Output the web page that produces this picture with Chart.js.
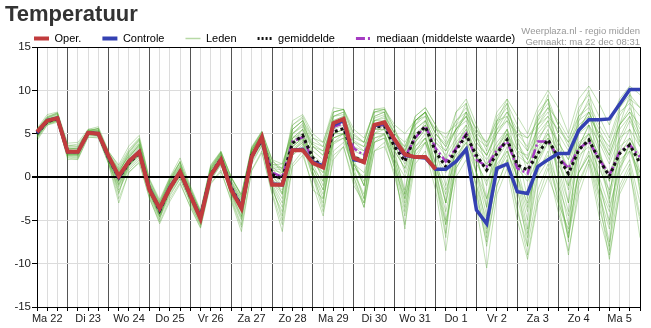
<!DOCTYPE html>
<html>
<head>
  <title>Temperatuur</title>
  <script src="https://cdn.jsdelivr.net/npm/chart.js"></script>
  <style>
    body { margin: 0; background: #fff; }
    .wrap { position: relative; width: 651px; height: 328px; font-family: 'Liberation Sans', Arial, sans-serif; }
    .titel { position: absolute; left: 5px; top: 3px; font-size: 22px; font-weight: bold; line-height: 22px; color: #333; }
    .bron { position: absolute; right: 11px; top: 25px; font-size: 9.5px; line-height: 11px; color: #999; text-align: right; }
    canvas { position: absolute; left: 0; top: 0; }
  </style>
</head>
<body>
  <div class="wrap">
    <canvas id="chart" width="651" height="328"></canvas>
    <div class="titel">Temperatuur</div>
    <div class="bron">Weerplaza.nl - regio midden<br>Gemaakt: ma 22 dec 08:31</div>
  </div>

  <script>
    // tick labels, one per day (placed at 12:00); data points are every 6 hours from Ma 22 06:00
    const dagen = ['Ma 22', 'Di 23', 'Wo 24', 'Do 25', 'Vr 26', 'Za 27', 'Zo 28', 'Ma 29', 'Di 30', 'Wo 31', 'Do 1', 'Vr 2', 'Za 3', 'Zo 4', 'Ma 5'];

    const oper = [5.2,6.5,6.8, 2.9,2.9,5.1,5.0, 2.4,0.1,1.8,2.9, -1.5,-3.6,-1.3,0.6, -2.1,-4.8,0.2,2.0, -1.5,-3.6,2.3,4.6, -0.9,-0.9,3.1,3.1, 1.6,1.1,6.2,6.7, 2.2,1.7,6.0,6.3, 4.3,2.6,2.3,2.3, 0.9];

    const controle = [5.1,6.5,6.8, 2.9,2.9,5.1,5.0, 2.3,0.0,1.8,2.9, -1.4,-3.7,-1.2,0.6, -2.1,-4.7,0.2,2.0, -1.4,-3.5,2.3,4.5, -0.8,-0.9,3.1,3.2, 1.7,1.3,6.0,6.5, 2.0,1.8,5.9,6.2, 4.2,2.5,2.3,2.2, 0.9,0.9,1.8,3.2, -3.8,-5.4,1.0,1.5, -1.7,-1.9,1.2,2.0, 2.7,2.7,5.4,6.6, 6.6,6.7,8.4,10.1, 10.1];

    const gemiddelde = [5.0,6.4,6.7, 2.9,2.9,5.1,5.0, 2.2,-0.1,1.6,2.8, -1.4,-3.9,-1.3,0.5, -2.2,-4.6,0.3,2.1, -1.2,-3.4,2.5,4.2, 0.3,-0.2,3.9,4.8, 2.2,1.1,5.2,5.6, 2.3,1.8,5.8,5.8, 3.5,1.8,4.7,5.8, 2.9,1.2,3.1,4.8, 2.5,0.8,2.7,4.3, 1.4,0.8,2.7,4.3, 2.3,0.4,3.1,4.3, 2.0,0.1,2.7,3.7, 1.6];

    const mediaan = [5.1,6.5,6.8, 2.9,2.9,5.1,5.0, 2.3,0.0,1.7,2.9, -1.4,-3.8,-1.2,0.6, -2.1,-4.7,0.3,2.1, -1.2,-3.4,2.5,4.3, 0.5,0.0,4.1,4.6, 1.8,1.2,5.8,6.2, 3.3,2.5,5.9,6.0, 4.0,2.3,4.5,5.9, 3.3,1.8,3.3,5.0, 2.0,1.2,3.1,4.1, 1.0,0.4,4.1,4.1, 2.3,1.0,3.3,4.1, 2.1,0.2,2.9,3.7, 2.3];

    // ensemble members (Leden)
    const leden = [
      [5.4,6.8,7.2, 3.5,3.6,5.3,5.4, 2.8,0.8,2.4,3.6, -0.8,-3.2,-0.6,1.2, -1.6,-4.2,0.8,2.6, -0.5,-2.5,3.0,4.8, 1.5,1.0,5.0,6.0, 3.8,3.0,6.5,7.0, 4.2,3.5,6.8,7.2, 5.0,3.5,6.5,7.5, 5.0,3.8,5.5,7.0, 5.0,4.0,6.0,7.5, 5.5,4.5,6.5,8.0, 6.5,4.5,7.0,8.5, 6.0,4.0,7.5,8.5, 7.0],
      [4.6,6.1,6.4, 2.3,2.2,4.8,4.7, 1.6,-1.2,1.0,2.2, -2.0,-4.8,-2.2,-0.2, -3.0,-5.6,-0.3,1.5, -2.2,-5.0,1.5,3.6, -1.5,-4.0,2.5,3.8, 0.5,-2.5,3.8,4.5, 0.5,-2.0,4.5,4.8, 1.5,-3.5,2.5,4.0, -0.5,-5.5,1.0,3.0, -1.0,-6.5,0.5,2.5, -2.5,-7.0,0.0,2.0, -2.0,-6.5,0.5,2.5, -2.0,-6.0,0.0,2.0, -3.0],
      [5.1,6.5,6.9, 3.1,3.0,5.2,5.1, 2.4,0.3,1.9,3.2, -1.0,-3.5,-1.0,0.9, -1.8,-4.3,0.5,2.4, -0.8,-3.0,2.8,4.6, 0.8,0.5,4.5,5.5, 3.0,2.0,6.0,6.5, 3.0,2.5,6.5,6.8, 4.5,3.0,5.5,6.5, 4.0,2.5,4.5,6.0, 3.5,2.0,4.0,5.5, 3.0,2.5,4.5,6.0, 4.0,2.0,5.0,6.0, 4.0,1.5,4.5,5.5, 3.5],
      [4.8,6.3,6.6, 2.7,2.6,5.0,4.9, 2.0,-0.6,1.4,2.6, -1.6,-4.2,-1.6,0.3, -2.5,-5.0,0.0,1.8, -1.6,-4.0,2.2,4.0, -0.5,-2.5,3.5,4.5, 1.5,-1.0,5.0,5.5, 1.5,-0.5,5.5,6.0, 2.5,-1.5,4.0,5.5, 1.5,-3.0,2.0,4.0, -1.5,-8.0,-1.0,2.0, -3.5,-9.0,-2.5,1.0, -4.0,-8.5,-2.0,1.5, -4.5,-9.0,-2.0,0.5, -5.0],
      [5.6,7.2,7.5, 3.9,4.0,5.5,5.8, 3.0,1.2,3.2,4.5, -0.4,-2.8,-0.2,1.8, -1.2,-4.0,1.2,2.9, 0.0,-2.2,3.4,5.2, 1.8,1.0,6.0,7.0, 4.5,3.5,7.5,7.8, 4.8,4.0,7.5,7.8, 5.5,3.0,7.0,8.0, 6.0,4.0,7.5,9.0, 6.0,3.5,7.5,9.0, 7.0,5.0,8.0,10.0, 8.0,5.0,9.0,10.5, 8.5,6.0,9.0,10.5, 9.5],
      [4.4,6.0,6.5, 2.0,2.1,4.6,4.5, 1.5,-3.0,0.6,1.6, -2.4,-5.4,-2.8,-0.8, -3.4,-5.8,-0.7,0.8, -2.8,-6.3,0.7,2.8, -2.0,-6.3,1.2,2.5, -1.0,-4.5,2.5,3.5, -0.5,-3.5,3.0,3.5, 0.5,-5.5,1.5,3.0, -1.5,-8.5,0.0,2.0, -2.0,-7.0,0.5,3.0, 0.0,-4.0,2.0,4.5, 1.0,-3.0,3.0,5.0, 1.5,-2.5,2.5,4.5, 2.0],
      [5.0,6.3,6.6, 2.8,2.8,5.0,5.0, 2.2,0.4,2.0,3.4, -1.2,-3.6,-1.0,0.8, -2.0,-4.5,0.4,2.2, -1.0,-3.2,2.6,4.4, 0.5,-1.0,3.5,4.5, 2.0,0.0,4.5,5.0, 1.5,-1.0,4.0,4.5, 1.0,-2.5,3.0,4.5, 0.5,-4.0,1.5,3.5, -3.5,-10.5,-2.0,1.0, -5.0,-9.5,-3.0,0.0, -3.0,-6.0,0.5,3.0, -1.0,-4.0,1.5,3.5, 0.0],
      [5.3,6.7,7.0, 3.3,3.4,5.4,5.3, 2.6,0.6,2.6,4.0, -0.6,-3.0,-0.4,1.4, -1.4,-4.0,1.0,2.7, -0.2,-2.0,3.2,5.0, 1.2,1.0,5.5,6.5, 4.0,3.5,7.0,7.5, 4.5,4.0,7.8,7.8, 5.0,3.0,6.5,7.0, 4.5,3.0,5.5,7.5, 5.5,4.0,6.5,7.0, 4.0,2.0,5.0,6.5, 3.5,1.0,5.5,7.5, 5.0,2.5,6.0,8.0, 5.5],
      [4.9,6.4,6.7, 2.6,2.5,5.0,4.8, 1.8,-1.5,0.8,2.0, -1.8,-4.5,-1.8,0.0, -2.6,-5.2,-0.2,1.6, -1.8,-4.5,2.0,3.8, -0.8,-3.0,3.0,4.0, 0.0,-4.0,2.0,3.5, -1.0,-3.0,3.0,4.0, 0.0,-4.5,2.0,4.0, 1.0,-2.0,3.0,5.0, 2.0,-1.0,3.5,5.5, 1.0,-3.5,2.5,5.0, 0.5,-4.0,2.0,4.5, -1.0,-5.0,1.0,4.0, -1.5],
      [4.9,6.3,6.6, 2.8,2.7,5.0,4.9, 2.0,-0.4,1.4,2.6, -1.5,-4.0,-1.4,0.4, -2.3,-4.8,0.2,2.0, -1.3,-3.6,2.4,4.1, 0.0,-1.0,3.5,4.5, 1.5,0.5,5.0,5.5, 2.0,1.5,5.5,5.5, 3.0,1.0,4.0,5.5, 2.5,0.5,2.5,4.0, 1.5,-0.5,2.0,4.0, 1.0,-0.5,2.0,4.0, 1.5,-1.0,2.5,3.5, 1.0,-1.5,2.0,3.0, 0.5],
      [4.5,6.2,6.8, 2.4,2.3,5.3,5.6, 1.7,-2.0,2.2,3.8, -2.2,-5.0,-0.6,1.8, -3.2,-5.5,1.0,2.8, -2.4,-5.5,3.0,5.0, -1.0,-5.0,5.5,6.5, 0.5,-3.5,7.0,7.5, 0.0,-3.0,7.5,7.5, 1.0,-6.0,6.0,7.5, -0.5,-7.0,5.0,7.5, 0.0,-6.0,6.0,8.5, -1.0,-8.0,6.5,9.5, -0.5,-7.5,6.5,9.0, -1.0,-8.5,6.0,9.5, -2.0],
      [5.2,6.6,6.9, 3.0,2.9,5.1,5.0, 2.3,0.0,1.7,3.0, -1.3,-3.8,-1.2,0.6, -2.1,-4.6,0.3,2.1, -1.1,-3.3,2.5,4.3, 0.5,0.0,4.0,5.0, 2.5,1.5,5.5,6.0, 2.5,2.0,6.0,6.0, 4.0,2.5,5.0,6.0, 3.5,2.0,4.0,5.5, 3.0,1.5,3.5,5.0, 2.5,1.5,3.5,5.0, 3.0,1.0,4.0,5.0, 2.5,0.5,3.5,4.5, 2.5],
      [4.2,6.0,6.3, 2.2,2.0,4.6,4.6, 1.6,-2.5,0.5,1.8, -2.5,-5.2,-2.5,-0.6, -3.5,-5.9,-0.8,0.6, -2.6,-5.8,0.8,3.0, -1.8,-5.5,1.5,3.0, -1.5,-2.5,3.0,4.0, 1.0,0.0,5.0,5.5, 3.0,1.0,5.5,6.5, 4.0,3.0,5.5,7.0, 4.0,2.5,5.0,6.5, 3.5,2.0,6.0,7.5, 5.0,3.0,6.5,7.5, 4.5,2.0,5.5,7.0, 4.5],
      [5.5,6.9,7.3, 3.6,3.8,5.3,5.6, 2.9,1.4,3.6,4.8, -0.2,-2.6,0.0,2.2, -1.0,-3.8,1.4,3.0, 0.0,-2.0,3.5,5.3, 2.0,0.5,6.5,7.2, 5.0,4.0,8.0,7.8, 5.0,4.0,7.8,8.0, 5.5,2.5,7.0,8.0, 6.0,2.0,7.5,8.5, 5.0,1.0,6.5,8.0, 4.5,0.5,6.0,8.0, 5.0,-1.0,5.0,7.0, 3.5,-2.0,4.0,6.5, 4.0],
      [4.7,6.2,6.5, 2.5,2.4,4.9,4.8, 1.9,-1.0,1.2,2.4, -1.9,-4.6,-2.0,-0.2, -2.8,-5.4,-0.4,1.4, -2.0,-4.8,1.8,3.6, -1.2,-4.5,2.5,3.5, 0.0,-3.0,4.0,5.0, 0.5,-2.5,4.0,4.5, 1.5,-3.0,3.0,4.5, 1.0,-5.0,1.5,3.5, -1.0,-5.0,1.0,3.5, -1.5,-6.5,0.5,3.0, -3.0,-9.0,-1.0,2.0, -2.5,-9.5,-1.5,1.0, -7.0],
      [5.3,6.9,7.4, 3.4,3.2,5.2,5.4, 2.5,0.9,2.8,4.2, -0.8,-3.3,-0.8,1.0, -1.7,-4.3,0.8,2.5, -0.6,-2.8,3.0,4.8, 1.0,0.8,4.5,5.5, 3.5,3.0,6.0,6.5, 4.0,3.0,6.5,7.0, 5.0,4.0,6.0,7.0, 5.5,5.0,6.0,7.0, 4.5,3.5,5.5,6.5, 5.0,4.5,6.0,7.0, 5.5,4.0,6.0,7.0, 5.0,3.5,6.0,7.5, 6.0],
      [4.6,6.3,6.8, 2.6,2.6,5.0,5.0, 2.1,-0.8,1.5,2.9, -1.6,-4.4,-1.4,0.6, -2.4,-5.1,0.2,2.0, -1.4,-4.2,2.4,4.2, -0.5,-2.0,4.0,5.5, 1.0,-1.5,5.5,6.5, 1.0,-2.5,5.0,6.0, 2.0,-2.0,4.5,6.0, 1.5,-3.0,3.5,6.0, 0.5,-3.5,3.0,5.5, 0.0,-5.0,3.0,5.5, 0.0,-5.5,3.5,6.0, -0.5,-5.5,3.0,5.5, 0.5],
      [5.0,6.5,6.9, 3.2,3.3,5.1,5.2, 2.3,0.2,2.2,3.5, -1.1,-3.7,-0.9,0.9, -1.9,-4.4,0.6,2.3, -0.9,-3.0,2.9,4.5, 1.0,-0.5,4.5,5.0, 2.0,0.5,5.0,5.0, 3.5,2.5,6.0,6.5, 4.0,0.5,4.0,6.5, 3.0,-1.0,3.5,5.5, 2.5,-2.5,2.0,5.0, 3.0,1.5,4.0,6.5, 2.5,-1.5,3.5,6.0, 3.0,-0.5,4.5,7.0, 3.5],
      [5.2,6.7,7.1, 3.0,3.1,5.3,5.2, 2.5,0.5,2.3,3.7, -0.9,-3.4,-0.7,1.1, -1.8,-4.4,0.7,2.5, -0.7,-2.7,3.1,4.9, 1.2,0.2,5.0,6.2, 3.5,2.5,7.0,7.2, 3.5,3.0,7.0,7.5, 4.5,2.0,6.5,7.5, 5.0,3.5,6.5,8.0, 5.5,3.0,7.0,8.5, 6.0,3.0,7.5,9.0, 6.0,4.0,8.0,9.5, 7.0,4.5,8.0,9.5, 8.0],
      [4.8,6.4,6.7, 2.7,2.8,5.0,5.1, 2.1,-1.8,1.3,2.7, -1.7,-4.6,-1.7,0.2, -2.7,-5.3,-0.1,1.7, -1.9,-4.6,2.1,4.0, -1.0,-3.5,3.0,4.2, 0.5,-2.0,4.5,5.0, 0.0,-3.5,4.0,5.0, 1.0,-4.0,3.5,5.0, 0.0,-6.5,2.0,4.5, 0.5,-4.5,2.5,5.0, -0.5,-6.0,1.5,4.0, -1.5,-7.0,1.0,4.5, -2.0,-7.5,0.5,4.0, -1.0],
      [5.4,6.6,7.0, 3.2,3.1,5.2,5.3, 2.6,0.7,2.5,3.8, -0.7,-3.1,-0.5,1.3, -1.5,-4.1,0.9,2.6, -0.4,-2.4,3.1,4.9, 1.4,1.5,5.0,5.8, 3.5,2.5,6.5,7.0, 4.0,3.5,6.5,6.5, 4.5,3.5,6.5,7.5, 5.5,4.5,6.5,7.5, 4.5,2.5,5.5,7.5, 5.0,3.5,7.0,8.5, 6.0,3.5,7.0,8.0, 5.5,3.0,7.0,9.0, 8.0],
      [4.9,6.2,6.5, 2.6,2.6,4.9,4.8, 1.9,-0.9,1.3,2.5, -1.7,-4.3,-1.7,0.2, -2.5,-5.0,0.0,1.8, -1.5,-3.9,2.2,3.9, -0.3,-1.5,3.0,4.0, 1.0,-0.5,4.0,4.5, 1.5,0.5,4.5,5.0, 2.0,0.0,3.5,4.5, 1.5,-1.5,2.0,3.5, 0.5,-2.5,1.5,3.0, 0.0,-3.0,1.0,2.5, -1.0,-4.5,0.5,2.5, 0.0,-3.5,1.0,3.0, -0.5],
      [5.3,6.8,7.3, 3.3,3.3,5.5,5.5, 2.7,0.4,2.9,4.3, -1.0,-3.3,-0.3,1.6, -1.9,-4.5,1.1,2.8, -1.0,-3.8,3.3,5.1, 0.5,-2.0,6.0,6.8, 2.5,-0.5,7.5,7.8, 2.0,-1.0,7.0,7.5, 3.0,-2.0,6.5,7.5, 2.5,-3.0,6.0,8.5, 3.0,-3.5,6.5,9.0, 3.0,-2.5,7.0,9.0, 2.5,-3.0,7.5,10.0, 3.0,-3.0,8.0,10.0, 4.0],
      [5.0,6.4,6.8, 2.9,2.8,5.1,4.9, 2.2,-0.2,1.6,2.8, -1.4,-3.9,-1.3,0.5, -2.2,-4.7,0.3,2.1, -1.2,-3.5,2.5,4.2, 0.2,-0.5,3.8,4.8, 2.0,1.0,5.0,5.5, 2.5,1.5,5.5,5.5, 3.5,1.5,4.5,6.0, 3.0,1.0,3.5,5.0, 2.5,0.5,3.0,4.5, 1.5,0.0,3.0,4.5, 2.5,0.0,3.5,5.0, 2.5,-0.5,3.0,4.0, 2.0],
      [4.7,6.2,6.6, 2.5,2.5,4.9,4.8, 2.0,-0.5,1.4,2.5, -1.6,-4.2,-1.5,0.3, -2.4,-4.9,0.1,1.9, -1.5,-3.8,2.3,4.0, -0.2,-1.8,3.2,4.3, 1.0,-1.5,4.5,5.0, 1.5,-1.0,5.0,5.0, 2.0,-2.5,3.0,4.0, 0.5,-5.5,1.0,3.0, -2.5,-7.5,-1.0,2.0, -4.0,-8.0,-1.5,1.5, -2.5,-7.0,-0.5,2.0, -3.5,-8.0,-1.0,1.5, -4.5],
      [5.5,7.0,7.4, 3.7,3.5,5.4,5.6, 2.8,1.0,3.0,4.4, -0.3,-2.9,-0.1,1.7, -1.3,-4.0,1.3,2.9, 0.0,-2.2,3.3,5.2, 2.0,1.5,5.5,6.5, 4.5,4.0,7.5,7.8, 5.5,4.5,7.5,7.8, 6.0,5.0,6.5,7.5, 5.0,3.5,5.5,6.5, 4.0,2.5,5.0,7.0, 4.5,3.0,5.5,7.0, 4.0,2.0,5.5,7.5, 4.5,2.5,6.0,7.5, 5.0]
    ];

    const rood = '#c13b3d';
    const blauw = '#3441b2';
    const paars = '#a53bc2';
    const groen = 'rgba(80, 165, 45, 0.35)';
    const font = "'Liberation Sans', Arial, sans-serif";

    const tijden = controle.map((v, i) => i);

    const datasets = [
      { label: 'Oper.', data: oper, borderColor: rood, borderWidth: 4, order: 1 },
      { label: 'Controle', data: controle, borderColor: blauw, borderWidth: 3.5, order: 2 },
      { label: 'gemiddelde', data: gemiddelde, borderColor: '#111', borderWidth: 3, borderDash: [3, 3], order: 3 },
      { label: 'mediaan (middelste waarde)', data: mediaan, borderColor: paars, borderWidth: 2.5, borderDash: [9, 3, 2, 3], order: 4 }
    ];
    leden.forEach(lid => {
      datasets.push({ label: 'Leden', data: lid, borderColor: groen, borderWidth: 1, order: 10 });
    });

    // zero line over the members, top and right border of the plot
    const kader = {
      id: 'kader',
      afterDatasetDraw(chart, args) {
        if (args.index !== 4) return;
        const { ctx, chartArea, scales } = chart;
        const y = scales.y.getPixelForValue(0);
        ctx.save();
        ctx.strokeStyle = '#000';
        ctx.lineWidth = 2;
        ctx.beginPath();
        ctx.moveTo(chartArea.left, y);
        ctx.lineTo(chartArea.right, y);
        ctx.stroke();
        ctx.restore();
      },
      afterDraw(chart) {
        const { ctx, chartArea } = chart;
        ctx.save();
        ctx.strokeStyle = '#000';
        ctx.lineWidth = 1;
        ctx.beginPath();
        ctx.moveTo(chartArea.left, chartArea.top + 0.5);
        ctx.lineTo(chartArea.right + 0.5, chartArea.top + 0.5);
        ctx.lineTo(chartArea.right + 0.5, chartArea.bottom);
        ctx.stroke();
        ctx.restore();
      }
    };

    new Chart(document.getElementById('chart').getContext('2d'), {
      type: 'line',
      data: { labels: tijden, datasets: datasets },
      plugins: [kader],
      options: {
        responsive: false,
        animation: false,
        events: [],
        layout: { padding: { left: 13, right: 11, top: 12, bottom: 0 } },
        elements: {
          point: { radius: 0 },
          line: { tension: 0, fill: false }
        },
        plugins: {
          tooltip: { enabled: false },
          legend: {
            position: 'top',
            align: 'start',
            maxHeight: 35,
            labels: {
              usePointStyle: true,
              pointStyleWidth: 15,
              boxHeight: 11,
              padding: 21,
              color: '#222',
              font: { family: font, size: 11 },
              generateLabels: () => [
                { text: 'Oper.', strokeStyle: rood, fillStyle: rood, lineWidth: 4, pointStyle: 'line', datasetIndex: 0 },
                { text: 'Controle', strokeStyle: blauw, fillStyle: blauw, lineWidth: 4, pointStyle: 'line', datasetIndex: 1 },
                { text: 'Leden', strokeStyle: '#b7d9a5', fillStyle: '#b7d9a5', lineWidth: 1.5, pointStyle: 'line', datasetIndex: 4 },
                { text: 'gemiddelde', strokeStyle: '#111', fillStyle: '#111', lineWidth: 3, lineDash: [2, 2], pointStyle: 'line', datasetIndex: 2 },
                { text: 'mediaan (middelste waarde)', strokeStyle: paars, fillStyle: paars, lineWidth: 3, lineDash: [9, 3, 2, 3], pointStyle: 'line', datasetIndex: 3 }
              ]
            }
          }
        },
        scales: {
          x: {
            type: 'category',
            offset: false,
            border: { color: '#000', width: 1 },
            grid: {
              color: c => (c.index % 4 === 3 ? '#555' : '#dcdcdc'),
              tickColor: '#000',
              tickLength: 4
            },
            ticks: {
              autoSkip: false,
              maxRotation: 0,
              padding: 1,
              color: '#222',
              font: { family: font, size: 11 },
              callback: (v, i) => (i % 4 === 1 ? dagen[(i - 1) / 4] : '')
            },
            afterFit: s => { s.height = 21; }
          },
          y: {
            min: -15,
            max: 15,
            border: { color: '#000', width: 1 },
            grid: {
              color: c => (c.tick.value === 0 ? '#000' : '#dcdcdc'),
              lineWidth: c => (c.tick.value === 0 ? 2 : 1),
              tickColor: '#000',
              tickLength: 5
            },
            ticks: {
              stepSize: 5,
              padding: 1,
              color: '#222',
              font: { family: font, size: 11.5 }
            },
            afterFit: s => { s.width = 24; }
          }
        }
      }
    });
  </script>
</body>
</html>
